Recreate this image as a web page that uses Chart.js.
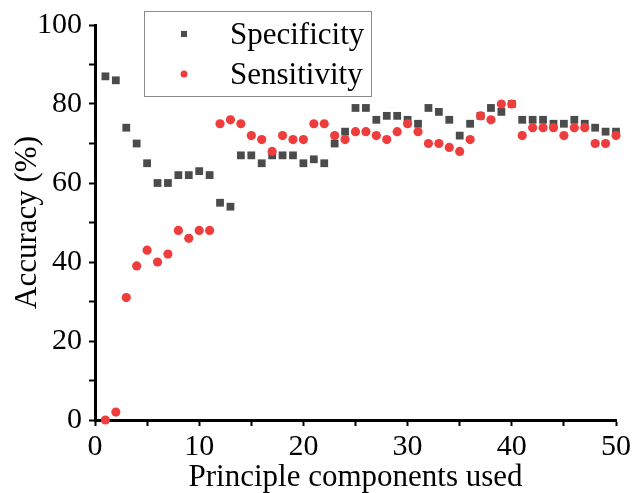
<!DOCTYPE html>
<html>
<head>
<meta charset="utf-8">
<script src="https://cdn.jsdelivr.net/npm/chart.js@4.4.1/dist/chart.umd.min.js"></script>
<style>
  html, body { margin: 0; padding: 0; background: #fff; }
  #wrap { width: 634px; height: 493px; }
</style>
</head>
<body>
<div id="wrap"><canvas id="accuracyChart" width="634" height="493"></canvas></div>
<script>
const components = [1, 2, 3, 4, 5, 6, 7, 8, 9, 10, 11, 12, 13, 14, 15, 16, 17, 18, 19, 20, 21, 22, 23, 24, 25,
  26, 27, 28, 29, 30, 31, 32, 33, 34, 35, 36, 37, 38, 39, 40, 41, 42, 43, 44, 45, 46, 47, 48, 49, 50];
const specificity = [87, 86, 74, 70, 65, 60, 60, 62, 62, 63, 62, 55, 54, 67, 67, 65, 67, 67, 67, 65, 66, 65, 70, 73, 79,
  79, 76, 77, 77, 76, 75, 79, 78, 76, 72, 75, 77, 79, 78, 80, 76, 76, 76, 75, 75, 76, 75, 74, 73, 73];
const sensitivity = [0, 2, 31, 39, 43, 40, 42, 48, 46, 48, 48, 75, 76, 75, 72, 71, 68, 72, 71, 71, 75, 75, 72, 71, 73,
  73, 72, 71, 73, 75, 73, 70, 70, 69, 68, 71, 77, 76, 80, 80, 72, 74, 74, 74, 72, 74, 74, 70, 70, 72];
const xTicks = [0, 10, 20, 30, 40, 50];
const yTicks = [0, 20, 40, 60, 80, 100];

const serif = 'Liberation Serif';
const specColor = '#4b4b4b';
const sensColor = '#ef3d3d';

const toPoints = (vals) => vals.map((v, i) => ({ x: components[i], y: v }));

// boxed legend in the top-left of the plot, drawn by hand
const boxLegend = {
  id: 'boxLegend',
  afterDraw(chart) {
    const ctx = chart.ctx;
    ctx.save();
    ctx.strokeStyle = '#8c8c8c';
    ctx.lineWidth = 1;
    ctx.fillStyle = '#fff';
    ctx.fillRect(144.5, 11.5, 227, 85);
    ctx.strokeRect(144.5, 11.5, 227, 85);

    ctx.fillStyle = specColor;
    ctx.fillRect(181, 31, 6, 6);
    ctx.fillStyle = sensColor;
    ctx.beginPath();
    ctx.arc(184, 74, 3.5, 0, Math.PI * 2);
    ctx.fill();

    ctx.fillStyle = '#000';
    ctx.font = `31px "${serif}"`;
    ctx.textBaseline = 'middle';
    ctx.textAlign = 'left';
    ctx.fillText(chart.data.datasets[0].label, 230, 36);
    ctx.fillText(chart.data.datasets[1].label, 230, 76);
    ctx.restore();
  }
};

const ctx = document.getElementById('accuracyChart').getContext('2d');
new Chart(ctx, {
  type: 'scatter',
  data: {
    datasets: [
      {
        label: 'Specificity',
        data: toPoints(specificity),
        pointStyle: 'rect',
        pointRadius: 5.5,
        pointHoverRadius: 5.5,
        backgroundColor: specColor,
        borderColor: specColor,
        borderWidth: 0,
        order: 2
      },
      {
        label: 'Sensitivity',
        data: toPoints(sensitivity),
        pointStyle: 'circle',
        pointRadius: 4.6,
        pointHoverRadius: 4.6,
        backgroundColor: sensColor,
        borderColor: sensColor,
        borderWidth: 0,
        order: 1
      }
    ]
  },
  options: {
    responsive: false,
    devicePixelRatio: 1,
    animation: false,
    clip: false,
    layout: { padding: { left: 0, top: 22, right: 17, bottom: 0 } },
    plugins: {
      legend: { display: false },
      tooltip: { enabled: false }
    },
    scales: {
      x: {
        type: 'linear',
        min: 0,
        max: 50,
        afterFit: (scale) => { scale.height = 73; },
        border: { display: true, color: '#000', width: 3 },
        grid: { drawOnChartArea: false, drawTicks: true, tickLength: 6, tickWidth: 2, tickColor: '#000' },
        ticks: {
          stepSize: 5,
          autoSkip: false,
          maxRotation: 0,
          padding: 3,
          color: '#000',
          font: { family: serif, size: 30 },
          callback: (v) => (xTicks.includes(v) ? v : '')
        },
        title: {
          display: true,
          text: 'Principle components used',
          color: '#000',
          font: { family: serif, size: 31, lineHeight: 1 },
          padding: { top: 0, bottom: 0 }
        }
      },
      y: {
        min: 0,
        max: 100,
        afterFit: (scale) => { scale.width = 95; },
        border: { display: true, color: '#000', width: 3 },
        grid: { drawOnChartArea: false, drawTicks: true, tickLength: 6, tickWidth: 2, tickColor: '#000' },
        ticks: {
          stepSize: 10,
          autoSkip: false,
          padding: 7,
          color: '#000',
          font: { family: serif, size: 30 },
          callback: (v) => (yTicks.includes(v) ? v : '')
        },
        title: {
          display: true,
          text: 'Accuracy (%)',
          color: '#000',
          font: { family: serif, size: 31, lineHeight: 1 },
          padding: { top: 12, bottom: 0 }
        }
      }
    }
  },
  plugins: [boxLegend]
});
</script>
</body>
</html>
